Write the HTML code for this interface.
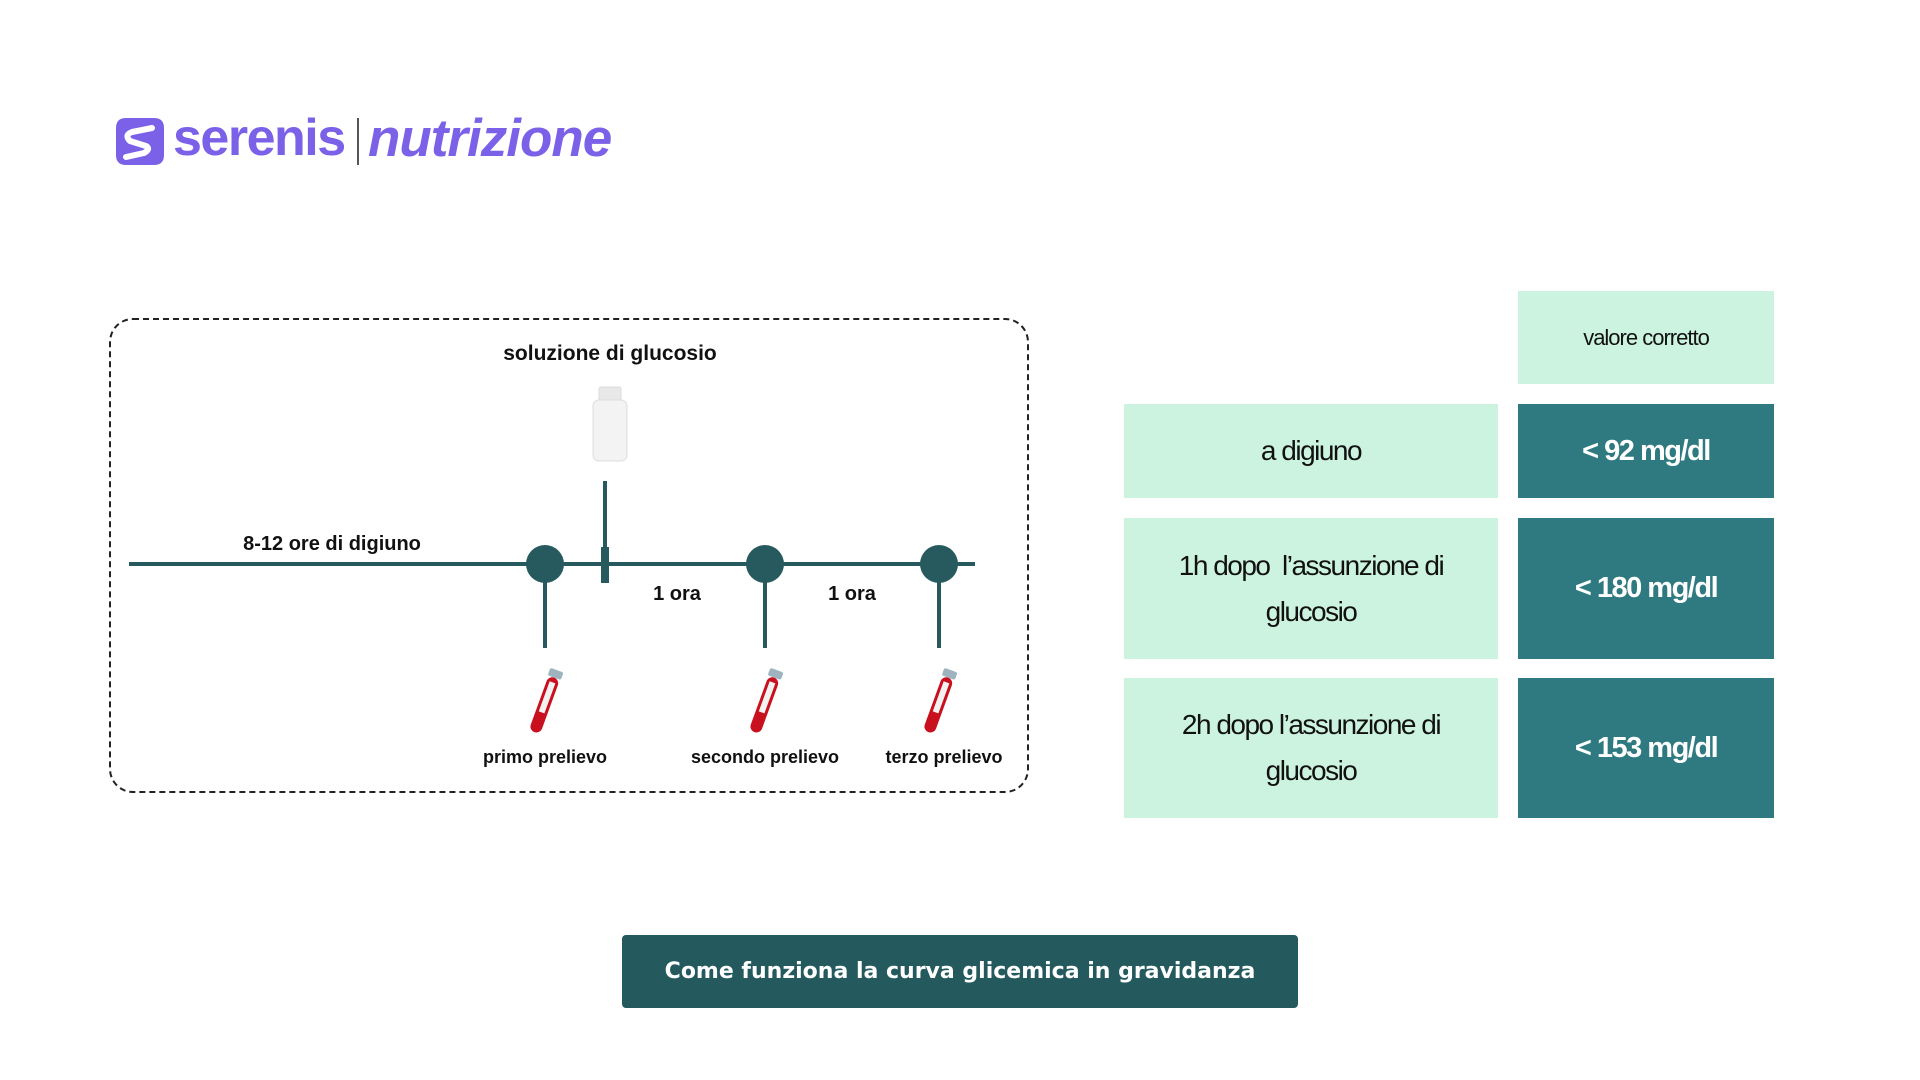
<!DOCTYPE html>
<html><head><meta charset="utf-8"><style>
body{margin:0;width:1920px;height:1080px;background:#fff;position:relative;overflow:hidden;font-family:"Liberation Sans",sans-serif;}
.a{position:absolute}
.cell{position:absolute;display:flex;align-items:center;justify-content:center;text-align:center;letter-spacing:-1.5px}
.l{background:#ccf3df;color:#111;font-size:28px;line-height:46px}
.d{background:#2e7a80;color:#fff;font-size:29px;font-weight:bold}
.lbl{position:absolute;transform:translateX(-50%);font-size:19px;color:#111;white-space:nowrap;font-weight:bold}
</style></head><body>
<!-- logo -->
<svg class="a" style="left:116px;top:118px" width="48" height="47" viewBox="0 0 48 47">
<path d="M10 0H38Q48 0 48 10V37Q48 47 38 47H10Q0 47 0 37V10Q0 0 10 0Z" fill="#7b61e8"/>
<path d="M36 10 L16 14 Q8 17 14 23 L30 28 Q35 31 28 35 L10 39" stroke="#fff" stroke-width="6" fill="none" stroke-linecap="round" stroke-linejoin="round"/>
</svg>
<div class="a" style="left:173px;top:108px;font-size:52px;color:#7b61e8;letter-spacing:-1.5px;font-weight:bold">serenis</div>
<div class="a" style="left:357px;top:118px;width:2px;height:47px;background:#555"></div>
<div class="a" style="left:368px;top:108px;font-size:53px;color:#7b61e8;letter-spacing:-1px;font-style:italic;font-weight:bold">nutrizione</div>

<!-- dashed box -->
<div class="a" style="left:109px;top:318px;width:916px;height:471px;border:2px dashed #222;border-radius:24px"></div>
<div class="lbl" style="left:610px;top:342px;font-size:21px">soluzione di glucosio</div>
<!-- bottle -->
<svg class="a" style="left:590px;top:385px" width="40" height="80" viewBox="0 0 40 80">
<rect x="9" y="2" width="22" height="14" rx="2" fill="#e8e8e8" stroke="#ddd"/>
<rect x="3" y="15" width="34" height="61" rx="6" fill="#f3f3f3" stroke="#ddd"/>
</svg>
<svg class="a" style="left:0;top:0" width="1920" height="1080">
<g stroke="#265a5e" stroke-width="4" fill="#265a5e">
<line x1="129" y1="564" x2="975" y2="564"/>
<line x1="605" y1="481" x2="605" y2="564"/>
<line x1="545" y1="564" x2="545" y2="648"/>
<line x1="765" y1="564" x2="765" y2="648"/>
<line x1="939" y1="564" x2="939" y2="648"/>
<rect x="601" y="547" width="8" height="36" stroke="none"/>
<circle cx="545" cy="564" r="19" stroke="none"/>
<circle cx="765" cy="564" r="19" stroke="none"/>
<circle cx="939" cy="564" r="19" stroke="none"/>
</g>
<g id="tube">
<g transform="translate(545,703) rotate(20)">
<rect x="-7" y="-35" width="14" height="8" rx="2" fill="#9fb3bf"/>
<rect x="-6" y="-27" width="12" height="58" rx="6" fill="#c8101e"/>
<rect x="-3" y="-22" width="6" height="32" fill="#f2f2f2"/>
</g>
</g>
<use href="#tube" x="220"/>
<use href="#tube" x="394"/>
</svg>
<div class="lbl" style="left:332px;top:533px;font-size:20px">8-12 ore di digiuno</div>
<div class="lbl" style="left:677px;top:583px;font-size:20px">1 ora</div>
<div class="lbl" style="left:852px;top:583px;font-size:20px">1 ora</div>
<div class="lbl" style="left:545px;top:747px;font-size:18px">primo prelievo</div>
<div class="lbl" style="left:765px;top:747px;font-size:18px">secondo prelievo</div>
<div class="lbl" style="left:944px;top:747px;font-size:18px">terzo prelievo</div>

<!-- table -->
<div class="cell l" style="left:1518px;top:291px;width:256px;height:93px;font-size:22px;letter-spacing:-1px">valore corretto</div>
<div class="cell l" style="left:1124px;top:404px;width:374px;height:94px">a digiuno</div>
<div class="cell d" style="left:1518px;top:404px;width:256px;height:94px">&lt; 92 mg/dl</div>
<div class="cell l" style="left:1124px;top:518px;width:374px;height:141px">1h dopo &nbsp;l’assunzione di<br>glucosio</div>
<div class="cell d" style="left:1518px;top:518px;width:256px;height:141px">&lt; 180 mg/dl</div>
<div class="cell l" style="left:1124px;top:678px;width:374px;height:140px">2h dopo l’assunzione di<br>glucosio</div>
<div class="cell d" style="left:1518px;top:678px;width:256px;height:140px">&lt; 153 mg/dl</div>

<!-- button -->
<div class="a" style="left:622px;top:935px;width:676px;height:73px;background:#245a5e;border-radius:4px;color:#fff;font-family:'DejaVu Sans',sans-serif;font-weight:bold;font-size:22px;display:flex;align-items:center;justify-content:center">Come funziona la curva glicemica in gravidanza</div>
</body></html>
